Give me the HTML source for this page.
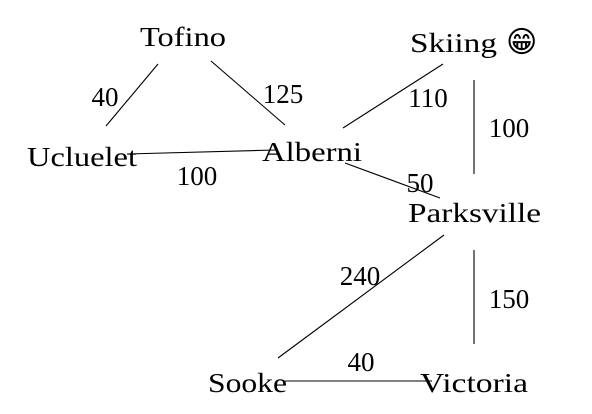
<!DOCTYPE html>
<html><head><meta charset="utf-8"><style>
html,body{margin:0;padding:0;background:#fff;}
svg{display:block;}
text{font-family:"Liberation Serif",serif;font-size:27px;fill:#000;}
</style></head><body>
<svg width="592" height="414" viewBox="0 0 592 414">
<g stroke="#000" stroke-width="1.1">
<line x1="158" y1="64" x2="106" y2="126"/>
<line x1="211" y1="61" x2="285" y2="125"/>
<line x1="127" y1="154" x2="275" y2="150"/>
<line x1="343" y1="128" x2="443" y2="64"/>
<line x1="474" y1="80" x2="474" y2="174"/>
<line x1="345" y1="163" x2="440" y2="198"/>
<line x1="444" y1="235" x2="278" y2="358"/>
<line x1="474" y1="250" x2="474" y2="344"/>
<line x1="285" y1="381" x2="432" y2="381"/>
</g>
<g lengthAdjust="spacingAndGlyphs">
<text x="140" y="46" textLength="86" lengthAdjust="spacingAndGlyphs">Tofino</text>
<text x="410" y="52" textLength="87" lengthAdjust="spacingAndGlyphs">Skiing</text>
<text x="506" y="52" style="font-family:'DejaVu Sans',sans-serif;font-size:30px">&#x1F601;&#xFE0E;</text>
<text x="27" y="166" textLength="110" lengthAdjust="spacingAndGlyphs">Ucluelet</text>
<text x="262" y="161" textLength="100" lengthAdjust="spacingAndGlyphs">Alberni</text>
<text x="408" y="222" textLength="133" lengthAdjust="spacingAndGlyphs">Parksville</text>
<text x="208" y="392" textLength="79" lengthAdjust="spacingAndGlyphs">Sooke</text>
<text x="420" y="392" textLength="108" lengthAdjust="spacingAndGlyphs">Victoria</text>
</g>
<g text-anchor="middle">
<text x="105" y="106">40</text>
<text x="283" y="103">125</text>
<text x="428" y="107">110</text>
<text x="509" y="137">100</text>
<text x="197" y="185">100</text>
<text x="420" y="192">50</text>
<text x="360" y="285">240</text>
<text x="509" y="308">150</text>
<text x="361" y="371">40</text>
</g>
</svg>
</body></html>
